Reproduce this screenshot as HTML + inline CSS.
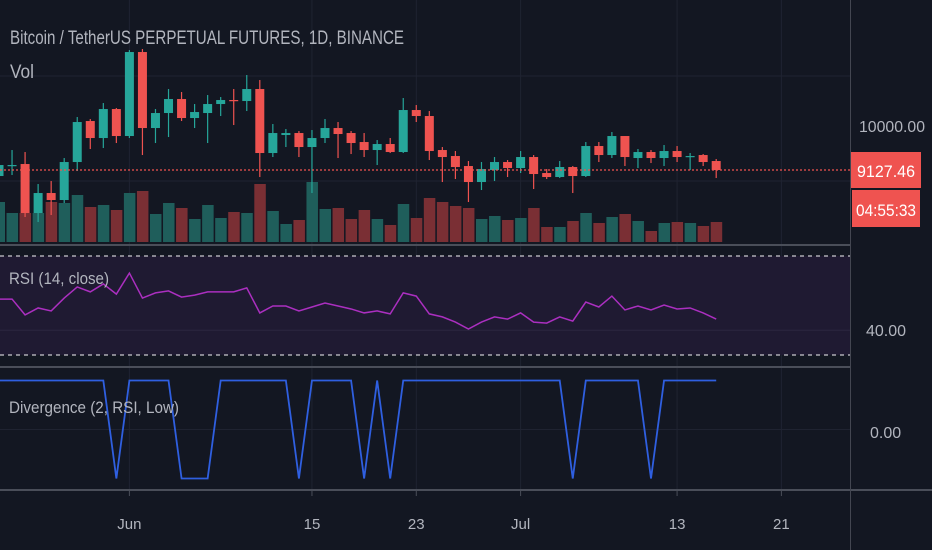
<!DOCTYPE html>
<html><head><meta charset="utf-8"><style>
html,body{margin:0;padding:0;background:#131722;width:932px;height:550px;overflow:hidden}
svg{display:block}
text{font-family:"Liberation Sans",sans-serif}
</style></head><body>
<svg id="chart" width="932" height="550" xmlns="http://www.w3.org/2000/svg"></svg>
<script>
// ---- data ----
const opens  = [9007,9217,9247,8267,8667,8527,9287,10107,9767,10347,9807,11487,9967,10267,10547,10167,10267,10447,10527,10507,10747,9467,9827,9867,9587,9767,9967,9867,9687,9527,9647,9487,10327,10207,9527,9407,9207,8887,9127,9287,9167,9387,9067,8987,9187,9007,9607,9427,9807,9367,9487,9367,9507,9387,9427,9307];
const highs  = [9287,9527,9487,8847,8907,9367,10187,10147,10467,10367,11527,11547,10347,10747,10687,10447,10627,10587,10747,11027,10927,10047,9947,9907,9927,10147,10087,9907,9867,9727,9767,10567,10427,10307,9587,9507,9307,9287,9387,9327,9507,9427,9147,9307,9207,9687,9687,9887,9807,9547,9527,9627,9607,9467,9447,9347];
const lows   = [8967,9027,8187,8087,8227,8467,9107,9547,9567,9667,9767,9427,9667,9787,10107,9967,9667,10207,10027,10307,8987,9387,9587,9387,8667,9667,9367,9447,9387,9227,9467,9467,10087,9327,8887,8947,8487,8727,8907,8987,9067,8747,8947,8967,8667,8987,9287,9367,9207,9167,9267,9207,9287,9127,9207,8967];
const closes = [9227,9227,8267,8667,8527,9287,10087,9767,10347,9807,11487,9967,10267,10547,10167,10287,10447,10527,10507,10747,9467,9867,9867,9587,9767,9967,9847,9667,9527,9647,9487,10327,10207,9507,9387,9187,8887,9147,9287,9167,9387,9047,8987,9187,9007,9607,9427,9807,9387,9487,9367,9507,9387,9407,9287,9127];
const volumes = [4000,2900,2900,2900,4000,3900,4700,3500,3700,3200,4900,5100,2800,3900,3400,2300,3700,2400,3000,2900,5800,3100,1800,2200,6000,3300,3400,2300,3200,2300,1700,3800,2400,4400,4000,3600,3400,2300,2600,2200,2400,3400,1500,1500,2100,2900,1900,2500,2800,2100,1100,1900,2000,1900,1600,2000];
const rsiValues = [52.6,52.6,46.2,49.0,47.8,53.0,57.5,55.5,58.7,54.6,63.1,53.0,55.1,55.9,53.4,54.2,55.5,55.5,55.5,57.1,47.0,49.8,49.8,47.8,49.4,51.0,49.8,48.6,47.0,47.8,46.6,55.1,53.8,46.6,45.4,43.3,40.5,43.3,45.4,44.5,47.0,43.3,42.9,45.4,43.7,51.4,49.4,53.8,48.2,49.8,48.2,50.2,48.6,49.0,47.0,44.5];
const divValues = [1,1,1,1,1,1,1,1,1,-1,1,1,1,1,-1,-1,-1,1,1,1,1,1,1,-1,1,1,1,1,-1,1,-1,1,1,1,1,1,1,1,1,1,1,1,1,1,-1,1,1,1,1,1,-1,1,1,1,1,1];
const dateTicks = [10,24,32,40,52,60];
const dateLabels = ["Jun","15","23","Jul","13","21"];
const lastPrice = 9127.46;

// ---- axes ----
const xAt = i => -1 + i*13.04;
const yPrice = p => 170 - (p - 9127.46)/20;
const yVol = v => 242 - v/100;
const yRsi = r => 256 + (70 - r)*2.475;
const yDiv = d => 429.5 - d*49;

const svg = document.getElementById('chart');
const NS = 'http://www.w3.org/2000/svg';
function mk(tag, attrs, parent){
  const e = document.createElementNS(NS, tag);
  for (const k in attrs) e.setAttribute(k, attrs[k]);
  (parent||svg).appendChild(e);
  return e;
}
const UP='#26a69a', DN='#ef5350';

// grid
const grid = mk('g',{});


dateTicks.forEach(t=>{
  const l=mk('line',{x1:xAt(t),x2:xAt(t),y1:0,y2:490,stroke:'#1f2331','stroke-width':1},grid);
  
  
});
[76,181].forEach(y=>{
  const l=mk('line',{x1:0,x2:850,y1:y,y2:y,stroke:'#1f2331','stroke-width':1},grid);
  
  
});

// RSI band
const band = mk('rect',{x:0,y:yRsi(70),width:850,height:yRsi(30)-yRsi(70),fill:'#1f1a32'});


const mg=mk('line',{x1:0,x2:850,y1:yRsi(40),y2:yRsi(40),stroke:'#2b2640','stroke-width':1});


[70,30].forEach(v=>{
  const l=mk('line',{x1:0,x2:850,y1:yRsi(v),y2:yRsi(v),stroke:'#c9c9d0','stroke-width':1.2,'stroke-dasharray':'4 4'});
  
  
});
const dg=mk('line',{x1:0,x2:850,y1:yDiv(0),y2:yDiv(0),stroke:'#1f2331'});



// volume
const vg = mk('g',{});


volumes.forEach((v,i)=>{
  const up = closes[i]>=opens[i];
  const r=mk('rect',{x:xAt(i)-5.5,y:yVol(v),width:11.5,height:242-yVol(v),fill:up?'#1f5e5b':'#7a2f34'},vg);
  
  
});

// candles
const cg = mk('g',{});


opens.forEach((o,i)=>{
  const c=closes[i], up=c>=o, col=up?UP:DN, x=xAt(i);
  const g=mk('g',{},cg);
  
  
  mk('line',{x1:x,x2:x,y1:yPrice(highs[i]),y2:yPrice(lows[i]),stroke:col,'stroke-width':1.2},g);
  const top=yPrice(Math.max(o,c)), bot=yPrice(Math.min(o,c));
  mk('rect',{x:x-4.5,y:top,width:9,height:Math.max(1.2,bot-top),fill:col},g);
});

// last price line
const pl=mk('line',{x1:0,x2:850,y1:yPrice(lastPrice),y2:yPrice(lastPrice),stroke:DN,'stroke-width':1.2,'stroke-dasharray':'2 2'});



// RSI line
const rp = mk('polyline',{points:rsiValues.map((r,i)=>xAt(i)+','+yRsi(r)).join(' '),fill:'none',stroke:'#ab2fc0','stroke-width':1.5});



// divergence line
const dp = mk('polyline',{points:divValues.map((d,i)=>xAt(i)+','+yDiv(d)).join(' '),fill:'none',stroke:'#2f5fe0','stroke-width':1.8});



// pane separators & axes
[[0,245,850,245],[0,367,850,367],[0,490,932,490]].forEach(a=>{
  const l=mk('line',{x1:a[0],y1:a[1],x2:a[2],y2:a[3],stroke:'#4a4e59','stroke-width':2});
  
  
});
const ra=mk('line',{x1:850.5,x2:850.5,y1:0,y2:550,stroke:'#434651','stroke-width':1});



// time axis labels
dateTicks.forEach((t,i)=>{
  mk('line',{x1:xAt(t),x2:xAt(t),y1:490,y2:496,stroke:'#4a4e59'});
  const tx=mk('text',{x:xAt(t),y:529,fill:'#b2b5be','font-size':15,'text-anchor':'middle'});
  tx.textContent=dateLabels[i];
  
  
});

function label(txt,x,y,size,fill,name,extra){
  const t=mk('text',Object.assign({x:x,y:y,fill:fill,'font-size':size},extra||{}));
  t.textContent=txt;
  
  
  return t;
}
label('10000.00',859,132,16,'#b2b5be','price-axis-label',{textLength:66,lengthAdjust:'spacingAndGlyphs'});
label('40.00',866,336,16,'#b2b5be','rsi-axis-label');
label('0.00',870,438,16,'#b2b5be','divergence-axis-label');

// price tags
const tag1=mk('rect',{x:851,y:152,width:70,height:36,fill:DN});


const tag2=mk('rect',{x:852,y:190,width:68,height:37,fill:DN});


label(lastPrice.toFixed(2),886,177,17,'#ffffff','last-price-value',{'text-anchor':'middle',textLength:58,lengthAdjust:'spacingAndGlyphs'});
label('04:55:33',886,216,17,'#ffffff','countdown-value',{'text-anchor':'middle',textLength:60,lengthAdjust:'spacingAndGlyphs'});

// titles
label('Bitcoin / TetherUS PERPETUAL FUTURES, 1D, BINANCE',10,44,19,'#b2b5be','chart-title',{textLength:394,lengthAdjust:'spacingAndGlyphs'});
label('Vol',10,78,19,'#b2b5be','volume-legend',{textLength:24,lengthAdjust:'spacingAndGlyphs'});
label('RSI (14, close)',9,284,17,'#b2b5be','rsi-legend',{textLength:100,lengthAdjust:'spacingAndGlyphs'});
label('Divergence (2, RSI, Low)',9,413,17,'#b2b5be','divergence-legend',{textLength:170,lengthAdjust:'spacingAndGlyphs'});
</script>
</body></html>
